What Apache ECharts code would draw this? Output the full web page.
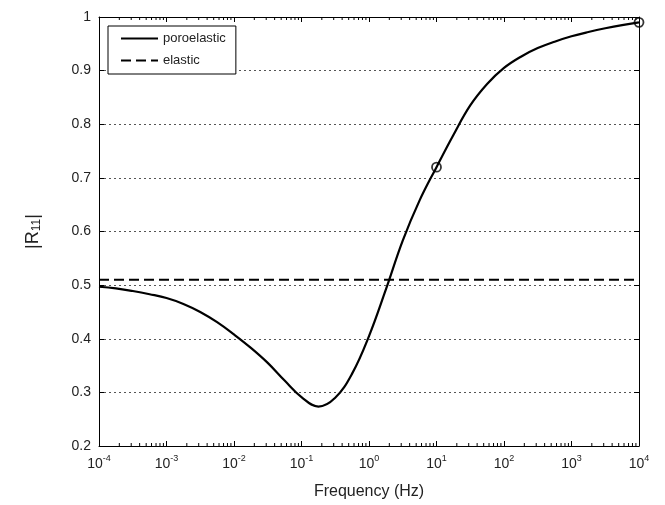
<!DOCTYPE html>
<html><head><meta charset="utf-8">
<script src="https://cdn.jsdelivr.net/npm/echarts@6/dist/echarts.min.js"></script>
<style>html,body{margin:0;padding:0;background:#fff}#c{width:665px;height:505px}</style>
</head><body><div id="c"></div>
<script>
// Data (frequency in Hz, |R11|)
const freqs = [1e-4, 1.78e-4, 3.16e-4, 5.62e-4, 1e-3, 1.78e-3, 3.16e-3, 5.62e-3, 1e-2, 1.78e-2, 3.16e-2, 5.62e-2, 0.1, 0.178, 0.316, 0.562, 1, 1.78, 3.16, 5.62, 10, 17.8, 31.6, 56.2, 100, 178, 316, 562, 1000, 1778, 3162, 5623, 10000];
const poroelastic = [0.497, 0.494, 0.489, 0.483, 0.476, 0.465, 0.450, 0.431, 0.408, 0.383, 0.355, 0.322, 0.291, 0.2735, 0.290, 0.335, 0.405, 0.492, 0.583, 0.658, 0.720, 0.780, 0.835, 0.875, 0.905, 0.926, 0.942, 0.954, 0.964, 0.972, 0.979, 0.985, 0.990];
const elasticFreqs = [1e-4, 1e4];
const elastic = [0.51, 0.51];
const markerFreqs = [10, 10000];
const markerValues = [0.72, 0.99];
const yTicks = ['0.2','0.3','0.4','0.5','0.6','0.7','0.8','0.9','1'];
const xMin = 1e-4, xMax = 1e4;

// minor tick positions (2..9 per decade) for log axis decoration
const minorTicks = [];
for (let e = -4; e < 4; e++) for (let k = 2; k <= 9; k++) minorTicks.push([k * Math.pow(10, e)]);

const chart = echarts.init(document.getElementById('c'), null, {renderer: 'canvas'});
const font = 'Liberation Sans, Arial, Helvetica, sans-serif';
const xLabelFmt = v => { const e = Math.round(Math.log10(v)); return '{b|10}{s|' + e + '}'; };

const option = {
  animation: false,
  backgroundColor: '#fff',
  textStyle: {fontFamily: font},
  grid: {left: 99, right: 26, top: 17, bottom: 59, containLabel: false},
  legend: {
    left: 108, top: 26, orient: 'vertical',
    backgroundColor: '#fff', borderColor: '#000', borderWidth: 1, borderRadius: 0,
    padding: [6, 10, 7, 12], itemGap: 9, itemWidth: 37, itemHeight: 14,
    textStyle: {fontSize: 13, color: '#222', fontFamily: font},
    itemStyle: {opacity: 0},
    data: [{name: 'poroelastic'}, {name: 'elastic'}]
  },
  xAxis: [{
    type: 'log', logBase: 10, min: xMin, max: xMax,
    name: 'Frequency (Hz)', nameLocation: 'middle', nameGap: 38,
    nameTextStyle: {fontSize: 16, color: '#222', fontFamily: font},
    axisLine: {show: true, lineStyle: {color: '#000', width: 1}},
    axisTick: {show: true, inside: true, length: 5, lineStyle: {color: '#000'}},
    axisLabel: {
      formatter: xLabelFmt, margin: 8,
      rich: {
        b: {fontSize: 14, color: '#222', fontFamily: font},
        s: {fontSize: 9, color: '#222', fontFamily: font, padding: [0, 0, 12, 0]}
      }
    },
    splitLine: {show: false}
  }, {
    type: 'log', logBase: 10, min: xMin, max: xMax, position: 'top',
    axisLine: {show: true, lineStyle: {color: '#000', width: 1}},
    axisTick: {show: true, inside: true, length: 5, lineStyle: {color: '#000'}},
    axisLabel: {show: false}, splitLine: {show: false}
  }],
  yAxis: [{
    type: 'value', min: 0.2, max: 1, interval: 0.1,
    name: '{n|\u007CR}{sub|11}{n|\u007C}', nameLocation: 'middle', nameGap: 56, nameRotate: 90,
    nameTextStyle: {
      rich: {
        n: {fontSize: 18, color: '#222', fontFamily: font},
        sub: {fontSize: 12, color: '#222', fontFamily: font, padding: [8, 0, 0, 0]}
      }
    },
    axisLine: {show: true, lineStyle: {color: '#000', width: 1}},
    axisTick: {show: true, inside: true, length: 5, lineStyle: {color: '#000'}},
    axisLabel: {
      fontSize: 14, color: '#222', margin: 8, fontFamily: font,
      formatter: v => yTicks[Math.round((v - 0.2) * 10)]
    },
    splitLine: {show: true, lineStyle: {color: '#555', width: 1, type: [2, 3]}}
  }, {
    type: 'value', min: 0.2, max: 1, interval: 0.1, position: 'right',
    axisLine: {show: true, lineStyle: {color: '#000', width: 1}},
    axisTick: {show: true, inside: true, length: 5, lineStyle: {color: '#000'}},
    axisLabel: {show: false}, splitLine: {show: false}
  }],
  series: [
    {
      name: 'poroelastic', type: 'line', xAxisIndex: 0, yAxisIndex: 0,
      data: freqs.map((f, i) => [f, poroelastic[i]]),
      smooth: 0.4, symbol: 'none', showSymbol: false,
      lineStyle: {color: '#000', width: 2.2, type: 'solid'},
      itemStyle: {color: '#000'}, z: 5
    },
    {
      name: 'elastic', type: 'line', xAxisIndex: 0, yAxisIndex: 0,
      data: elasticFreqs.map((f, i) => [f, elastic[i]]),
      symbol: 'none', showSymbol: false,
      lineStyle: {color: '#000', width: 2.2, type: [10, 5]},
      itemStyle: {color: '#000'}, z: 4
    },
    {
      name: 'markers', type: 'scatter', xAxisIndex: 0, yAxisIndex: 0,
      data: markerFreqs.map((f, i) => [f, markerValues[i]]),
      symbol: 'circle', symbolSize: 9,
      itemStyle: {color: 'rgba(0,0,0,0)', borderColor: '#000', borderWidth: 1.8},
      z: 6, clip: false
    },
    {
      name: 'minorTicks', type: 'custom', xAxisIndex: 0, yAxisIndex: 0,
      data: minorTicks, silent: true, clip: false,
      renderItem: (params, api) => {
        const b = api.coord([api.value(0), 0.2]);
        const t = api.coord([api.value(0), 1]);
        return {type: 'group', children: [
          {type: 'line', shape: {x1: b[0], y1: b[1], x2: b[0], y2: b[1] - 3}, style: {stroke: '#000', lineWidth: 1}},
          {type: 'line', shape: {x1: t[0], y1: t[1], x2: t[0], y2: t[1] + 3}, style: {stroke: '#000', lineWidth: 1}}
        ]};
      }
    }
  ]
};
chart.setOption(option);
</script></body></html>
